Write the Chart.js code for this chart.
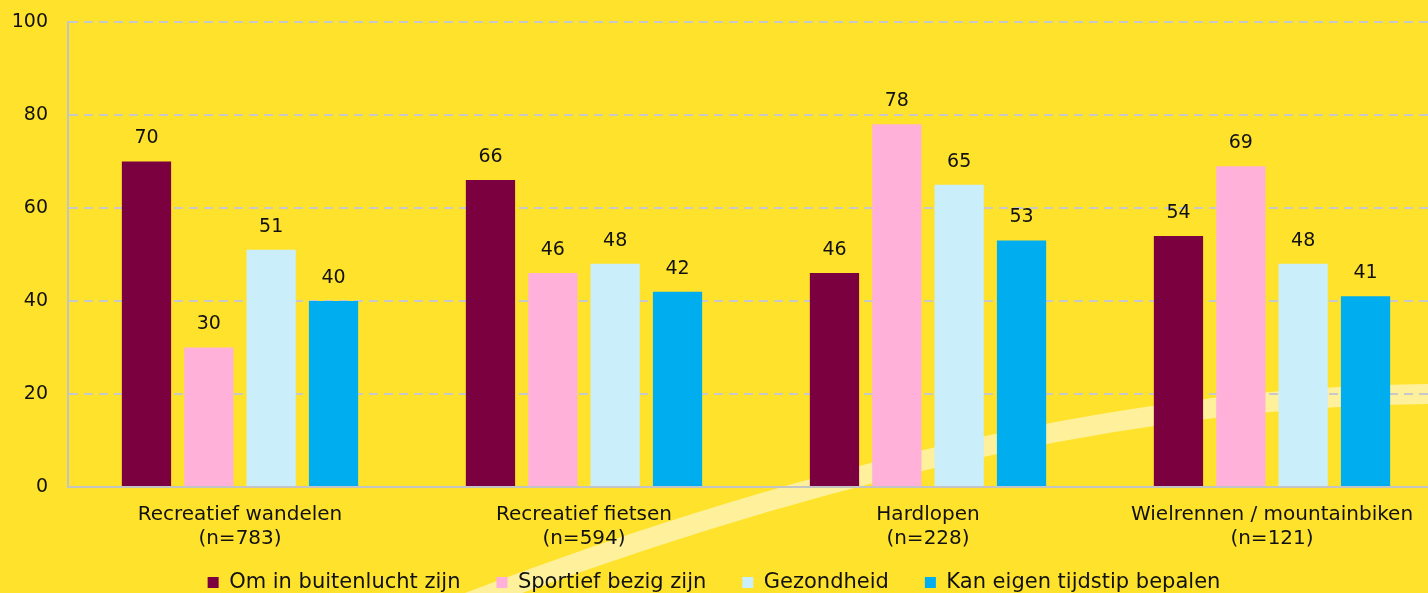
<!DOCTYPE html>
<html>
<head>
<meta charset="utf-8">
<script src="https://cdn.jsdelivr.net/npm/chart.js@4"></script>
<style>
  html, body { margin: 0; padding: 0; background: #ffe22b; overflow: hidden; }
  #wrap { width: 1428px; height: 593px; position: relative; }
</style>
</head>
<body>
<div id="wrap"><canvas id="chart"></canvas></div>
<script>
const categories = [
    ['Recreatief wandelen', '(n=783)'],
    ['Recreatief fietsen', '(n=594)'],
    ['Hardlopen', '(n=228)'],
    ['Wielrennen / mountainbiken', '(n=121)']
];
const seriesNames = ['Om in buitenlucht zijn', 'Sportief bezig zijn', 'Gezondheid', 'Kan eigen tijdstip bepalen'];
const buitenlucht = [70, 66, 46, 54];
const sportief = [30, 46, 78, 69];
const gezondheid = [51, 48, 65, 48];
const tijdstip = [40, 42, 53, 41];
const yTicks = [0, 20, 40, 60, 80, 100];

const colors = ['#7b003f', '#ffb1d9', '#cbeefb', '#00aeef'];
const font = "'DejaVu Sans', Verdana, sans-serif";

// yellow background with the pale curved stripe behind the chart
const backdrop = {
    id: 'backdrop',
    beforeDraw(chart) {
        const c = chart.ctx;
        c.save();
        c.fillStyle = '#ffe22b';
        c.fillRect(0, 0, chart.width, chart.height);
        c.strokeStyle = '#fff19b';
        c.lineWidth = 20;
        c.beginPath();
        c.moveTo(410, 625);
        c.quadraticCurveTo(1000, 392, 1450, 394);
        c.stroke();
        c.restore();
    }
};

// plot runs past the right edge of the picture; legend sits closer to the bottom
const layoutTweaks = {
    id: 'layoutTweaks',
    afterLayout(chart) {
        const extra = 16;
        const x = chart.scales.x;
        x.right += extra;
        x.width += extra;
        x.configure();
        chart.chartArea.right += extra;
        chart.chartArea.width += extra;
        const lg = chart.legend;
        lg.top = chart.height - 57;
        lg.bottom = chart.height;
    }
};

// value labels above bars
const valueLabels = {
    id: 'valueLabels',
    afterDatasetsDraw(chart) {
        const c = chart.ctx;
        c.save();
        c.font = '19px ' + font;
        c.fillStyle = '#111';
        c.textAlign = 'center';
        c.textBaseline = 'middle';
        chart.data.datasets.forEach((ds, i) => {
            chart.getDatasetMeta(i).data.forEach((bar, j) => {
                c.fillText(Math.round(ds.data[j]), bar.x, bar.y - 23);
            });
        });
        c.restore();
    }
};

new Chart(document.getElementById('chart'), {
    type: 'bar',
    data: {
        labels: categories,
        datasets: [buitenlucht, sportief, gezondheid, tijdstip].map((d, i) => ({
            label: seriesNames[i],
            data: d,
            backgroundColor: colors[i],
            borderWidth: 0,
            categoryPercentage: 0.725,
            barPercentage: 0.79
        }))
    },
    options: {
        responsive: true,
        maintainAspectRatio: false,
        animation: false,
        layout: { padding: { top: 22, right: 0, left: 0, bottom: 0 } },
        plugins: {
            legend: {
                position: 'bottom',
                maxHeight: 40,
                labels: {
                    boxWidth: 11,
                    boxHeight: 11,
                    padding: 36,
                    color: '#111',
                    font: { family: font, size: 21 }
                }
            },
            tooltip: { enabled: false }
        },
        scales: {
            x: {
                afterFit(scale) { scale.height = 66; },
                grid: { display: false },
                border: { display: true, color: '#c4c4c4', width: 2 },
                ticks: { color: '#111', padding: 8, font: { family: font, size: 20 }, maxRotation: 0, autoSkip: false }
            },
            y: {
                min: 0,
                max: 100,
                afterBuildTicks(scale) { scale.ticks = yTicks.map(v => ({ value: v })); },
                afterFit(scale) { scale.width = 68; },
                grid: { color: '#c8c8c8', lineWidth: 2, drawTicks: true, tickLength: 20, tickColor: 'rgba(0,0,0,0)' },
                border: { display: true, color: '#c4c4c4', width: 2, dash: [9, 6] },
                ticks: { color: '#111', padding: 0, font: { family: font, size: 19 } }
            }
        }
    },
    plugins: [backdrop, layoutTweaks, valueLabels]
});
</script>
</body>
</html>
